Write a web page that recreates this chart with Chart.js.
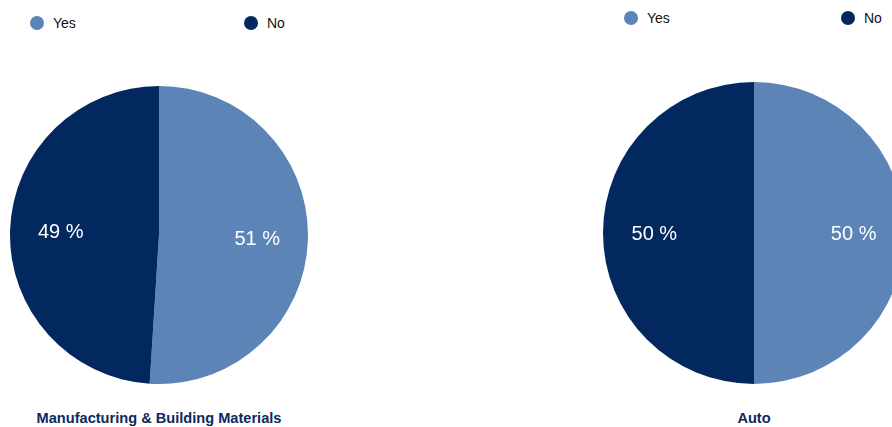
<!DOCTYPE html>
<html lang="en">
<head>
  <meta charset="UTF-8">
  <title>Yes / No by Sector</title>
  <script src="https://cdn.jsdelivr.net/npm/chart.js"></script>
  <style>
    html, body { margin: 0; padding: 0; background: #fff; overflow: hidden; }
    body { width: 892px; height: 427px; position: relative; font-family: "Liberation Sans", Arial, sans-serif; }
    .pie { position: absolute; }
    .legend-item { position: absolute; font-size: 14px; color: #111; line-height: 16px; white-space: nowrap; }
    .legend-item .dot { position: absolute; left: 0; top: 1px; width: 14px; height: 14px; border-radius: 50%; }
    .legend-item span.txt { position: absolute; left: 23px; top: 0; }
    .title { position: absolute; font-size: 14.6px; font-weight: bold; color: #0c2a5e; text-align: center; white-space: nowrap; transform: translateX(-50%); }
  </style>
</head>
<body>
  <canvas id="pieManufacturing" class="pie"></canvas>
  <canvas id="pieAuto" class="pie"></canvas>

  <script>
    const answers = ['Yes', 'No'];
    const answerColors = ['#5d84b6', '#02285f'];

    const sectors = ['Manufacturing & Building Materials', 'Auto'];
    const manufacturingShares = [51, 49];
    const autoShares = [50, 50];

    // canvas placement per chart: left, top, size (square)
    const layouts = [
      { id: 'pieManufacturing', left: 10, top: 86, size: 298, legendTop: 15, legendX: [30, 244], titleX: 159 },
      { id: 'pieAuto', left: 603, top: 82, size: 302, legendTop: 10, legendX: [624, 841], titleX: 754 }
    ];

    // writes "NN %" in white inside each slice
    const sliceLabels = {
      id: 'sliceLabels',
      afterDatasetsDraw(chart) {
        const ctx = chart.ctx;
        const meta = chart.getDatasetMeta(0);
        const values = chart.data.datasets[0].data;
        ctx.save();
        ctx.fillStyle = '#ffffff';
        ctx.font = '20px "Liberation Sans", Arial, sans-serif';
        ctx.textAlign = 'center';
        ctx.textBaseline = 'middle';
        meta.data.forEach((arc, i) => {
          const p = arc.getProps(['x', 'y', 'startAngle', 'endAngle', 'outerRadius'], true);
          const mid = (p.startAngle + p.endAngle) / 2;
          const r = p.outerRadius * 0.66;
          ctx.fillText(values[i] + ' %', p.x + Math.cos(mid) * r, p.y + Math.sin(mid) * r + 1);
        });
        ctx.restore();
      }
    };

    function addLegend(layout) {
      answers.forEach((name, i) => {
        const item = document.createElement('div');
        item.className = 'legend-item';
        item.style.left = layout.legendX[i] + 'px';
        item.style.top = layout.legendTop + 'px';
        const dot = document.createElement('span');
        dot.className = 'dot';
        dot.style.background = answerColors[i];
        const txt = document.createElement('span');
        txt.className = 'txt';
        txt.textContent = name;
        item.appendChild(dot);
        item.appendChild(txt);
        document.body.appendChild(item);
      });
    }

    function addTitle(layout, text) {
      const t = document.createElement('div');
      t.className = 'title';
      t.style.left = layout.titleX + 'px';
      t.style.top = '410px';
      t.textContent = text;
      document.body.appendChild(t);
    }

    function createPie(layout, shares) {
      const canvas = document.getElementById(layout.id);
      canvas.style.left = layout.left + 'px';
      canvas.style.top = layout.top + 'px';
      canvas.style.width = layout.size + 'px';
      canvas.style.height = layout.size + 'px';
      canvas.width = layout.size;
      canvas.height = layout.size;
      new Chart(canvas.getContext('2d'), {
        type: 'pie',
        data: {
          labels: answers,
          datasets: [{
            data: shares,
            backgroundColor: answerColors,
            borderWidth: 0
          }]
        },
        options: {
          responsive: false,
          animation: false,
          layout: { padding: 0 },
          plugins: {
            legend: { display: false },
            tooltip: { enabled: false }
          }
        },
        plugins: [sliceLabels]
      });
    }

    [manufacturingShares, autoShares].forEach((shares, i) => {
      createPie(layouts[i], shares);
      addLegend(layouts[i]);
      addTitle(layouts[i], sectors[i]);
    });
  </script>
</body>
</html>
